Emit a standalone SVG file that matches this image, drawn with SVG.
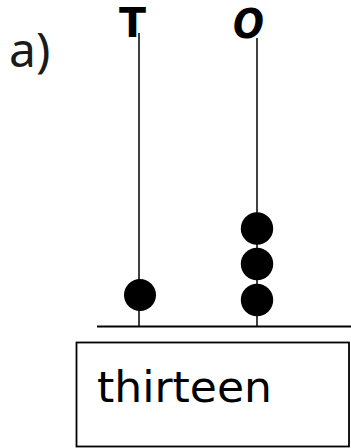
<svg xmlns="http://www.w3.org/2000/svg" width="351" height="448" viewBox="0 0 351 448">
<style>
.rod{stroke:#000;stroke-width:1.5;fill:none}
.bead{fill:#000}
.lbl{font-family:"DejaVu Sans",sans-serif;font-weight:bold;fill:#000}
</style>
<rect width="351" height="448" fill="#fff"/>
<text x="9" y="67" font-family="'Noto Sans',sans-serif" font-size="48" fill="#1a1a1a">a)</text>
<g id="connectors">
<line class="rod" x1="139" y1="33" x2="139" y2="327"/>
<line class="rod" x1="257" y1="38" x2="257" y2="327"/>
<line x1="97" y1="326.5" x2="351" y2="326.5" stroke="#000" stroke-width="2"/>
</g>
<g id="tens">
<text class="lbl" x="119" y="37" font-size="40" textLength="27" lengthAdjust="spacingAndGlyphs">T</text>
<circle class="bead" cx="140" cy="295" r="16"/>
</g>
<g id="ones">
<text class="lbl" x="233" y="38" font-size="40" font-style="italic" textLength="31" lengthAdjust="spacingAndGlyphs">O</text>
<circle class="bead" cx="257" cy="228.5" r="16.2"/>
<circle class="bead" cx="257" cy="264" r="16.2"/>
<circle class="bead" cx="257" cy="300" r="16.2"/>
</g>
<g id="label-box">
<rect x="76.5" y="342.5" width="272.5" height="104" fill="#fff" stroke="#000" stroke-width="1.8"/>
<text x="97" y="402" font-family="'DejaVu Sans',sans-serif" font-size="42" fill="#000" textLength="175" lengthAdjust="spacingAndGlyphs">thirteen</text>
</g>
</svg>
